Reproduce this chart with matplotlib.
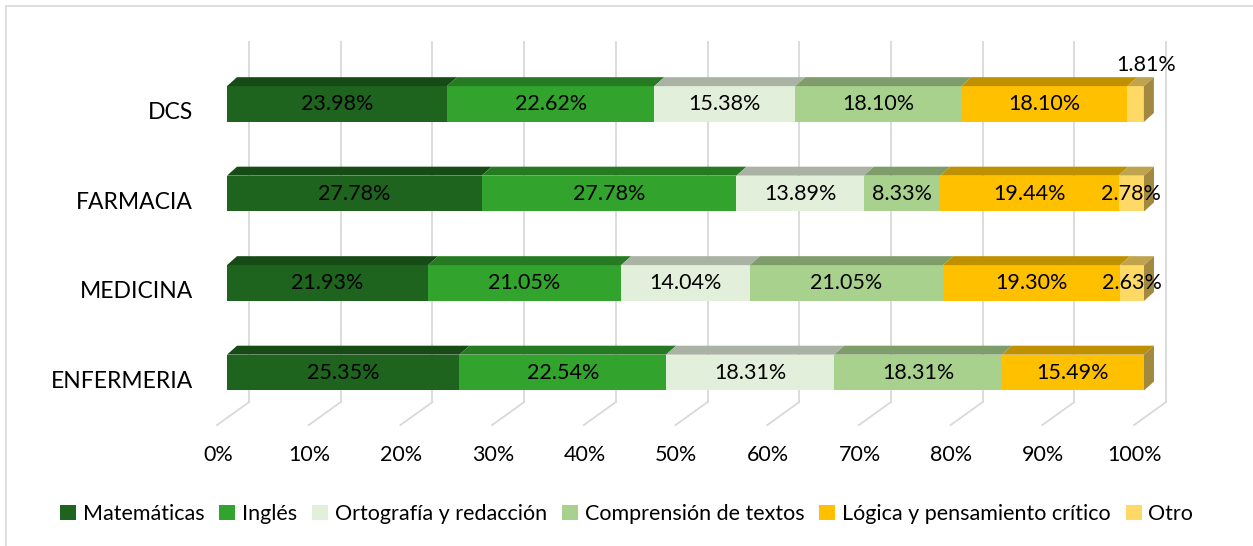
import matplotlib.pyplot as plt
import matplotlib.patches as mpatches
from matplotlib.colors import to_rgb
import numpy as np

plt.rcParams['font.family'] = ['Lato', 'DejaVu Sans']

# datos (porcentaje por carrera)
carreras = ["ENFERMERIA", "MEDICINA", "FARMACIA", "DCS"]
materias = ["Matemáticas", "Inglés", "Ortografía y redacción",
            "Comprensión de textos", "Lógica y pensamiento crítico", "Otro"]
matematicas = [25.35, 21.93, 27.78, 23.98]
ingles = [22.54, 21.05, 27.78, 22.62]
ortografia = [18.31, 14.04, 13.89, 15.38]
comprension = [18.31, 21.05, 8.33, 18.10]
logica = [15.49, 19.30, 19.44, 18.10]
otro = [0.0, 2.63, 2.78, 1.81]
series = [matematicas, ingles, ortografia, comprension, logica, otro]
ticks = [0, 10, 20, 30, 40, 50, 60, 70, 80, 90, 100]

colores = ["#1E641E", "#32A32C", "#E2EFDA", "#A9D18E", "#FFC000", "#FFD966"]

def oscuro(c, f):
    r, g, b = to_rgb(c)
    return (r * f, g * f, b * f)

fig = plt.figure(figsize=(12.53, 5.46), dpi=100)
W, H = 1253, 546
ax = fig.add_axes([227 / W, (H - 430) / H, 917 / W, 400 / H])
ax.set_xlim(0, 100)
ax.set_ylim(-0.642, 3.827)
ax.axis("off")

# marco del grafico
fig.add_artist(plt.Line2D([6 / W, 6 / W], [0, 1 - 6 / H], color="#D9D9D9", lw=1.2))
fig.add_artist(plt.Line2D([6 / W, 1], [1 - 6 / H, 1 - 6 / H], color="#D9D9D9", lw=1.2))

dx, dy = 1.09, 0.10      # profundidad de las barras
h = 0.40                 # alto de la cara frontal
gx = 2.4                 # desplazamiento de la pared del fondo
y_top, y_back, y_front = 3.69, -0.33, -0.587

# lineas de la cuadricula (pared y piso)
for v in ticks:
    ax.plot([v + gx, v + gx], [y_back, y_top], color="#D9D9D9", lw=1.3,
            zorder=0, clip_on=False)
    ax.plot([v + gx, v - dx], [y_back, y_front], color="#D9D9D9", lw=1.3,
            zorder=0, clip_on=False)
    ax.text(v - 1.0, -0.92, f"{v}%", ha="center", va="center", fontsize=15.5,
            clip_on=False)

for i, c in enumerate(carreras):
    izq = 0.0
    for j, s in enumerate(series):
        w = s[i]
        col = colores[j]
        ax.add_patch(mpatches.Rectangle((izq, i - h / 2), w, h, facecolor=col,
                                        edgecolor="none", zorder=2))
        top = [(izq, i + h / 2), (izq + w, i + h / 2),
               (izq + w + dx, i + h / 2 + dy), (izq + dx, i + h / 2 + dy)]
        ax.add_patch(mpatches.Polygon(top, closed=True, facecolor=oscuro(col, 0.75),
                                      edgecolor="none", zorder=2, clip_on=False))
        if w > 0:
            txt = f"{w:.2f}%"
            if c == "DCS" and j == 5:
                ax.text(izq + w / 2 + 1.2, i + 0.44, txt, ha="center", va="center",
                        fontsize=15.5, clip_on=False, zorder=5)
            else:
                ax.text(izq + w / 2, i, txt, ha="center", va="center",
                        fontsize=15.5, clip_on=False, zorder=5)
        izq += w
    # cara lateral al final de la barra
    lado = [(izq, i - h / 2), (izq, i + h / 2),
            (izq + dx, i + h / 2 + dy), (izq + dx, i - h / 2 + dy)]
    ax.add_patch(mpatches.Polygon(lado, closed=True, facecolor=oscuro(colores[5], 0.63),
                                  edgecolor="none", zorder=2, clip_on=False))
    ax.text(-3.7, i - 0.1, c, ha="right", va="center", fontsize=16.5, clip_on=False)

handles = [mpatches.Patch(facecolor=colores[k], label=materias[k]) for k in range(6)]
fig.legend(handles=handles, loc="center", bbox_to_anchor=(0.5, (H - 514) / H),
           ncol=6, frameon=False, fontsize=15.5, handlelength=0.75, handleheight=0.75,
           handletextpad=0.3, columnspacing=0.7)

fig.savefig("out.png", dpi=100)
